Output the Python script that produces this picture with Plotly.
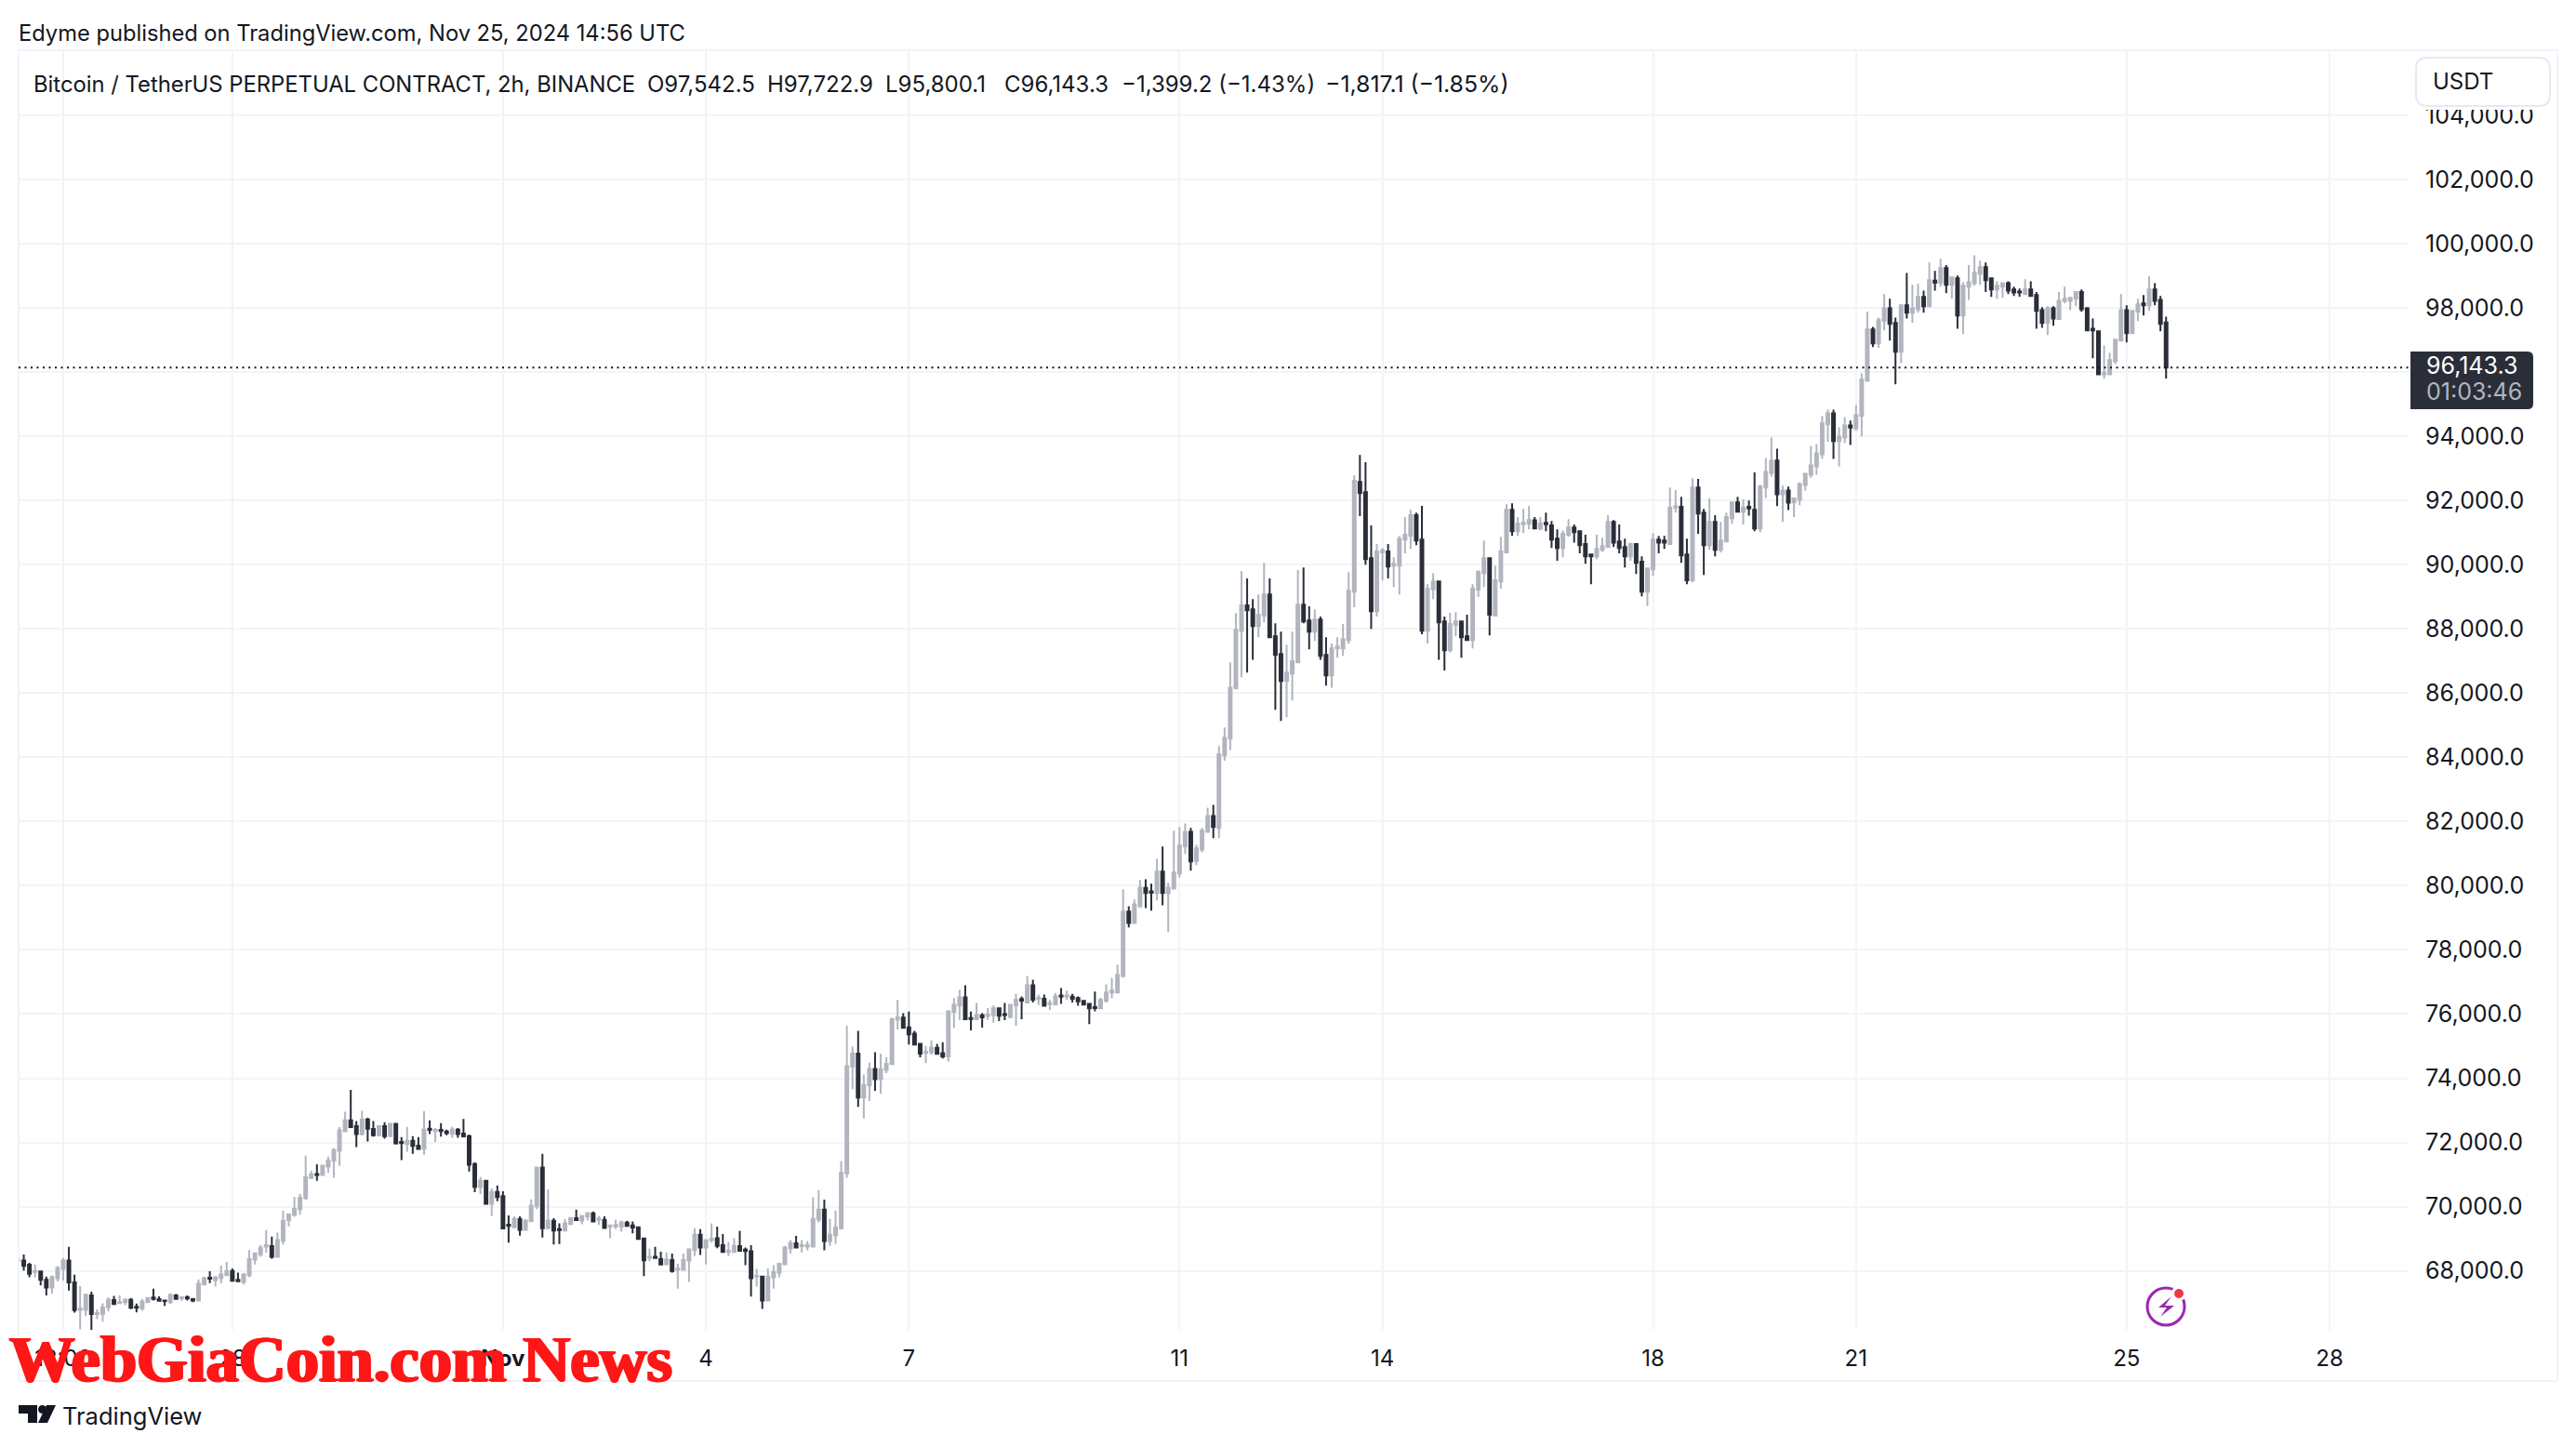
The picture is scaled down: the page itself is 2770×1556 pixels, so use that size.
import pandas as pd
import plotly.graph_objects as go

# 2h candles, prices in thousands of USDT
open_k = [
68.30,68.32,68.19,67.97,67.98,67.72,67.48,67.77,68.06,68.32,
67.64,66.79,66.79,67.24,66.66,66.66,66.87,67.09,67.00,67.03,
67.10,66.88,66.83,67.03,67.17,67.12,67.08,67.03,67.24,67.15,
67.18,67.12,67.08,67.58,67.79,67.71,67.78,67.87,68.00,67.72,
67.66,67.87,68.35,68.52,68.76,68.77,68.44,68.94,69.58,69.74,
69.92,70.27,70.90,71.02,70.99,71.25,71.43,71.74,72.35,72.69,
72.51,72.26,72.72,72.42,72.23,72.51,72.20,72.58,72.02,71.95,
72.05,71.90,71.81,72.43,72.36,72.39,72.34,72.28,72.40,72.28,
72.20,71.33,70.62,70.81,70.09,70.46,70.33,69.44,69.36,69.61,
69.28,69.55,70.01,71.22,69.33,69.56,69.30,69.26,69.46,69.64,
69.57,69.70,69.79,69.60,69.59,69.38,69.39,69.38,69.50,69.42,
69.36,69.01,68.41,68.44,68.37,68.21,68.34,68.04,68.03,68.32,
68.65,69.13,68.73,68.96,69.02,68.80,68.59,68.59,68.77,68.66,
68.61,67.82,67.82,67.08,67.80,67.95,68.21,68.71,68.86,68.77,
68.76,68.76,69.60,69.91,68.93,69.11,69.33,71.04,74.36,74.77,
73.40,73.78,74.29,73.97,74.26,74.44,75.83,75.89,75.59,75.39,
75.07,74.80,74.81,74.95,74.78,74.68,76.07,76.27,76.52,75.88,
75.84,75.96,75.94,75.97,76.18,76.00,75.91,76.27,76.47,76.36,
76.90,76.47,76.48,76.31,76.30,76.58,76.55,76.54,76.50,76.41,
76.32,76.22,76.18,76.42,76.67,76.67,77.19,79.19,78.84,79.36,
79.93,79.82,79.77,80.44,79.77,79.91,80.38,81.23,81.68,80.77,
81.13,81.68,82.17,81.80,84.06,84.58,86.15,87.94,88.73,88.61,
88.09,88.41,89.07,87.77,87.22,86.38,86.61,86.96,88.75,88.26,
87.91,88.29,87.19,86.55,87.39,87.39,87.65,89.16,92.58,92.26,
90.20,88.55,90.38,90.41,89.97,89.97,90.78,90.90,91.54,90.78,
87.94,89.23,89.48,88.23,87.33,88.12,88.23,87.77,87.65,89.22,
89.74,90.20,88.41,89.48,90.38,91.71,91.04,91.26,91.28,91.38,
91.13,91.30,91.22,90.81,90.52,90.93,91.16,91.04,90.64,90.32,
90.26,90.46,90.55,91.33,90.72,90.55,90.26,90.64,90.09,89.16,
89.85,90.78,90.75,90.64,91.78,91.80,90.32,89.51,92.40,91.62,
90.61,91.33,90.46,90.72,91.45,91.94,91.65,91.80,91.71,91.13,
92.40,92.86,93.24,92.19,92.31,91.94,92.02,92.48,92.80,93.06,
93.44,94.37,94.71,93.85,93.96,94.34,94.25,94.63,95.73,97.33,
96.89,97.59,97.99,97.53,96.63,98.08,97.85,97.96,98.34,98.05,
98.85,98.78,99.24,98.72,98.92,97.76,98.66,98.77,99.06,99.27,
98.92,98.57,98.66,98.77,98.57,98.51,98.43,98.57,98.40,97.93,
97.53,97.99,97.65,98.22,98.22,98.28,98.49,97.99,97.35,97.27,
95.93,95.93,96.34,96.98,97.93,97.21,97.88,98.14,98.08,98.57,
98.25,97.5425]

high_k = [
68.40,68.51,68.25,68.20,68.01,67.82,67.87,68.15,68.40,68.75,
67.88,67.53,67.26,67.35,66.80,66.99,67.18,67.22,67.24,67.14,
67.16,66.98,67.13,67.16,67.45,67.21,67.10,67.30,67.28,67.19,
67.24,67.16,67.74,67.82,67.99,67.84,68.17,68.28,68.08,67.95,
67.93,68.65,68.57,68.80,69.27,69.07,69.19,69.88,69.77,70.31,
70.40,71.59,71.12,71.32,71.30,71.56,71.83,72.48,72.96,73.64,
72.67,72.99,72.77,72.67,72.53,72.63,72.61,72.60,72.17,72.49,
72.20,72.17,72.98,72.69,72.45,72.60,72.40,72.49,72.45,72.73,
72.25,71.39,70.93,70.81,70.57,70.66,70.48,69.73,69.70,69.70,
69.61,70.23,71.25,71.65,70.54,69.64,69.48,69.62,69.68,69.91,
69.73,69.82,69.85,69.71,69.70,69.44,69.60,69.56,69.56,69.54,
69.39,69.01,68.70,68.75,68.60,68.58,68.54,68.22,68.54,68.69,
69.33,69.30,68.96,69.48,69.38,69.15,68.90,69.02,69.25,68.73,
68.80,68.06,67.84,68.08,68.18,68.25,68.78,68.96,69.09,68.96,
68.93,70.29,70.52,70.22,69.62,69.88,71.42,75.64,74.99,75.48,
74.12,74.49,74.81,74.76,74.66,75.89,76.44,76.03,76.08,75.48,
75.07,75.01,75.18,75.07,75.12,76.09,76.50,76.75,76.90,76.08,
76.35,76.03,76.19,76.27,76.20,76.35,76.30,76.63,76.55,77.19,
77.07,76.61,76.61,76.44,76.66,76.81,76.73,76.63,76.55,76.44,
76.32,76.70,76.51,76.93,77.13,77.54,79.89,79.36,79.57,80.18,
80.20,80.06,80.84,81.22,80.09,81.71,81.83,81.94,81.80,81.28,
81.80,82.43,82.52,84.35,84.93,86.96,88.49,89.80,89.57,88.93,
89.07,90.06,89.57,88.17,87.91,87.51,87.91,89.83,89.91,88.70,
88.61,88.38,87.74,87.54,87.74,88.15,89.77,92.78,93.42,93.19,
91.22,90.64,90.52,90.64,90.23,90.90,91.48,91.71,91.62,91.83,
89.39,89.74,89.48,88.38,88.50,88.52,88.26,88.44,89.39,89.83,
90.75,90.23,89.97,90.87,91.88,91.91,91.48,91.74,91.83,91.48,
91.48,91.62,91.36,91.10,91.07,91.42,91.25,91.04,90.93,90.32,
90.93,90.84,91.54,91.39,91.25,90.81,90.69,90.67,90.26,89.91,
90.98,90.90,90.90,92.40,92.32,92.11,90.81,92.69,92.67,91.74,
92.06,91.54,91.33,91.62,91.97,92.11,92.03,92.00,92.87,92.49,
93.32,93.96,93.61,92.46,92.43,92.09,92.57,92.86,93.70,93.76,
94.63,94.83,94.83,94.28,94.60,94.49,94.98,95.96,97.88,97.41,
97.70,98.43,98.28,97.70,98.08,99.09,98.72,98.75,98.54,99.41,
99.15,99.53,99.33,98.98,99.01,98.80,99.33,99.64,99.47,99.41,
98.92,98.83,98.80,98.83,98.66,98.60,98.89,98.83,98.49,98.02,
98.05,98.05,98.49,98.66,98.34,98.49,98.57,98.02,97.67,97.27,
96.83,96.60,97.04,98.43,98.08,97.93,98.28,98.40,98.98,98.77,
98.37,97.7229]

low_k = [
68.25,68.01,67.80,67.80,67.55,67.24,67.29,67.67,67.70,67.39,
66.70,66.18,66.59,66.10,66.50,66.42,66.74,66.97,66.97,66.93,
66.81,66.71,66.76,67.00,67.08,67.05,66.91,66.97,67.10,67.07,
67.08,67.03,67.08,67.57,67.62,67.51,67.61,67.87,67.69,67.66,
67.58,67.80,68.20,68.44,68.57,68.38,68.42,68.82,69.39,69.69,
69.75,70.21,70.86,70.81,70.96,71.05,70.90,71.28,72.32,72.45,
71.86,72.22,72.03,72.18,72.20,72.12,72.20,71.94,71.45,71.71,
71.65,71.78,71.62,72.26,72.02,72.18,72.23,72.15,72.15,72.18,
71.10,70.45,70.39,70.06,69.71,70.17,69.32,68.88,69.36,69.10,
69.28,69.55,69.92,69.04,69.33,68.82,68.84,69.26,69.44,69.58,
69.45,69.57,69.51,69.43,69.33,69.02,69.30,69.22,69.39,69.17,
69.00,67.84,68.30,68.39,68.18,68.21,67.95,67.45,68.03,67.66,
68.47,68.50,68.20,68.88,68.71,68.59,68.46,68.59,68.61,68.18,
67.20,67.51,66.82,67.05,67.45,67.80,68.20,68.55,68.71,68.58,
68.64,68.76,69.51,68.64,68.78,68.84,69.29,70.90,73.66,73.11,
72.75,73.29,73.61,73.52,74.16,74.42,75.52,75.55,75.05,75.02,
74.65,74.47,74.74,74.73,74.62,74.52,75.57,75.81,75.84,75.49,
75.84,75.58,75.82,75.73,75.78,75.81,75.87,75.64,75.84,76.36,
76.36,76.28,76.24,76.13,76.30,76.32,76.44,76.36,76.26,76.27,
75.69,76.09,76.18,76.36,76.49,76.67,77.14,78.70,78.84,79.31,
79.30,79.22,79.54,79.39,78.55,79.89,80.26,80.99,80.47,80.64,
81.04,81.68,81.48,81.48,83.89,84.23,86.12,86.49,86.64,87.04,
87.74,88.20,87.71,85.48,85.13,85.25,85.77,86.93,88.17,87.36,
87.62,87.04,86.23,86.17,87.10,87.16,87.54,88.67,91.51,90.00,
88.00,88.38,89.51,89.57,89.30,89.07,90.35,90.49,90.61,87.83,
87.54,88.93,87.04,86.70,87.27,87.77,87.10,87.62,87.39,88.99,
89.30,87.80,88.41,89.25,90.35,90.90,90.90,90.99,91.10,91.13,
91.07,91.04,90.52,90.12,90.23,90.87,90.69,90.35,90.03,89.39,
90.17,90.40,90.55,90.55,90.35,89.91,90.12,89.71,89.01,88.72,
89.65,90.35,90.49,90.64,91.62,90.06,89.39,89.45,90.96,89.68,
90.46,90.26,90.38,90.72,91.27,91.65,91.25,91.53,91.04,91.01,
92.08,92.74,91.82,91.33,91.70,91.48,91.85,92.31,92.71,92.80,
93.29,93.82,93.29,93.06,93.79,93.73,94.17,93.99,95.73,96.78,
96.75,97.30,96.98,95.62,96.28,97.67,97.53,97.85,97.85,98.05,
98.54,98.66,98.46,98.28,97.35,97.18,98.25,98.69,98.72,98.49,
98.34,98.28,98.31,98.43,98.37,98.34,98.43,98.37,97.35,97.38,
97.15,97.44,97.64,98.14,97.93,98.05,97.88,97.27,96.43,95.93,
95.79,95.91,96.25,96.98,96.92,97.21,97.59,97.76,97.91,98.08,
97.27,95.8001]

close_k = [
68.35,68.16,67.91,68.00,67.72,67.48,67.80,68.09,68.32,67.64,
66.78,66.83,67.26,66.66,66.69,66.87,67.10,66.97,67.03,67.11,
66.85,66.85,67.05,67.15,67.13,67.07,67.06,67.25,67.13,67.18,
67.14,67.08,67.60,67.77,67.76,67.80,67.89,68.00,67.69,67.68,
67.89,68.37,68.55,68.72,68.80,68.44,68.96,69.56,69.76,69.93,
70.28,70.92,71.01,70.99,71.28,71.44,71.76,72.38,72.69,72.48,
72.26,72.72,72.43,72.23,72.51,72.20,72.58,71.97,71.98,72.05,
71.89,71.80,72.40,72.39,72.39,72.36,72.29,72.40,72.26,72.19,
71.31,70.62,70.81,70.09,70.46,70.30,69.32,69.40,69.62,69.28,
69.57,70.03,71.22,69.33,69.57,69.26,69.27,69.48,69.65,69.58,
69.71,69.80,69.54,69.63,69.34,69.42,69.43,69.51,69.40,69.35,
69.00,68.33,68.44,68.40,68.20,68.35,68.00,68.07,68.34,68.67,
69.13,68.73,68.96,69.00,68.78,68.59,68.63,68.78,68.63,68.62,
67.77,67.85,67.08,67.82,67.97,68.22,68.73,68.87,68.73,68.80,
68.80,69.62,69.91,68.93,69.13,69.35,71.06,74.38,74.77,73.40,
73.79,74.29,73.97,74.28,74.45,75.83,75.89,75.57,75.37,75.05,
74.77,74.83,74.96,74.76,74.68,76.09,76.29,76.52,75.84,75.85,
75.97,75.90,75.99,76.18,75.95,75.97,76.29,76.44,76.42,76.90,
76.45,76.51,76.26,76.35,76.55,76.54,76.58,76.48,76.40,76.30,
76.18,76.19,76.44,76.67,76.73,77.22,79.19,78.84,79.42,79.94,
79.77,79.78,80.44,79.77,79.94,80.41,81.25,81.68,80.76,81.16,
81.71,82.17,81.83,84.09,84.61,86.17,87.97,88.73,88.58,88.09,
88.44,89.07,87.74,87.19,86.38,86.64,86.99,88.75,88.23,87.91,
88.29,87.16,86.55,87.39,87.45,87.68,89.19,92.61,92.23,90.17,
88.55,90.41,90.44,89.94,90.03,90.81,90.93,91.54,90.75,87.94,
89.25,89.48,88.20,87.33,88.15,88.23,87.74,87.65,89.25,89.77,
90.20,88.44,89.51,90.41,91.71,91.04,91.28,91.30,91.39,91.13,
91.28,91.26,90.78,90.52,90.96,91.16,91.01,90.61,90.26,90.26,
90.49,90.58,91.33,90.69,90.52,90.26,90.64,90.06,89.16,89.88,
90.78,90.69,90.69,91.77,91.82,90.29,89.51,92.40,91.59,90.61,
91.33,90.46,90.75,91.48,91.94,91.65,91.77,91.75,91.13,92.43,
92.89,93.24,92.19,92.31,91.93,92.06,92.51,92.83,93.09,93.47,
94.40,94.71,93.85,93.99,94.34,94.27,94.66,95.76,97.33,96.89,
97.62,97.99,97.50,96.63,98.08,97.85,97.99,98.34,98.05,98.86,
98.78,99.24,98.72,98.95,97.76,98.69,98.80,99.09,99.27,98.86,
98.57,98.69,98.77,98.54,98.48,98.48,98.57,98.37,97.91,97.53,
97.99,97.67,98.22,98.28,98.31,98.49,97.96,97.30,97.30,95.93,
95.98,96.37,97.01,97.93,97.21,97.91,98.11,98.08,98.57,98.22,
97.50,96.1433]

first_bar = "2024-10-24 20:00"
price_ticks = [68000 + 2000 * i for i in range(19)]
time_ticks = ["2024-10-25 12:00", "2024-10-28", "2024-11-01", "2024-11-04", "2024-11-07", "2024-11-11",
              "2024-11-14", "2024-11-18", "2024-11-21", "2024-11-25", "2024-11-28"]
time_labels = ["12:00", "28", "<b>Nov</b>", "4", "7", "11", "14", "18", "21", "25", "28"]
legend_main = "Bitcoin / TetherUS PERPETUAL CONTRACT, 2h, BINANCE"
legend_vals = ["O97,542.5", "H97,722.9", "L95,800.1", "C96,143.3", "−1,399.2 (−1.43%)", "−1,817.1 (−1.85%)"]

assert len(open_k) == len(high_k) == len(low_k) == len(close_k) == 382

times = pd.date_range(first_bar, periods=len(open_k), freq="2h")
to_usdt = lambda xs: [round(v * 1000, 1) for v in xs]
last_close = round(close_k[-1] * 1000, 1)

W, H = 2770, 1556
L, R, T, B = 20, 2590, 53, 1430
INK = "#131722"
FONT = "Inter, Roboto, sans-serif"
def px(x): return (x - L) / (R - L)
def py(y): return (B - y) / (B - T)

fig = go.Figure(go.Candlestick(
    x=times, open=to_usdt(open_k), high=to_usdt(high_k), low=to_usdt(low_k), close=to_usdt(close_k),
    increasing=dict(line=dict(color="#B2B5BE", width=2), fillcolor="#B2B5BE"),
    decreasing=dict(line=dict(color="#2A2E39", width=2), fillcolor="#2A2E39"),
    whiskerwidth=0, hoverinfo="skip",
))

def note(x, y, text, size=24, color=INK, anchor="left", family=FONT, shadow=None):
    f = dict(family=family, size=size, color=color)
    if shadow:
        f["shadow"] = shadow
    fig.add_annotation(x=px(x), y=py(y), xref="paper", yref="paper", text=text, showarrow=False,
                       xanchor=anchor, yanchor="middle", align="left", font=f)

def shape_path(points, fill):
    d = "M " + " L ".join(f"{px(a):.5f},{py(b):.5f}" for a, b in points) + " Z"
    fig.add_shape(type="path", path=d, xref="paper", yref="paper", fillcolor=fill, line_width=0)

def rect(x0, y0, x1, y1, line="#F0F3FA", fill=None, width=2):
    fig.add_shape(type="rect", xref="paper", yref="paper", x0=px(x0), x1=px(x1), y0=py(y0), y1=py(y1),
                  line=dict(color=line, width=width), fillcolor=fill)

def circle(cx, cy, r, line=None, fill=None, width=3):
    fig.add_shape(type="circle", xref="paper", yref="paper", x0=px(cx - r), x1=px(cx + r),
                  y0=py(cy + r), y1=py(cy - r),
                  line=dict(color=line or "rgba(0,0,0,0)", width=width if line else 0), fillcolor=fill)

# frame
rect(20, 54, 2750, 1485)
# last price line
fig.add_shape(type="line", xref="paper", yref="y", x0=0, x1=1, y0=last_close, y1=last_close,
              line=dict(color=INK, width=2, dash="2px,4.5px"))
# price tag
tag = (f"M {px(2592):.5f},{py(378):.5f} L {px(2718):.5f},{py(378):.5f} "
       f"Q {px(2724):.5f},{py(378):.5f} {px(2724):.5f},{py(384):.5f} "
       f"L {px(2724):.5f},{py(434):.5f} Q {px(2724):.5f},{py(440):.5f} {px(2718):.5f},{py(440):.5f} "
       f"L {px(2592):.5f},{py(440):.5f} Z")
fig.add_shape(type="path", path=tag, xref="paper", yref="paper", fillcolor="#2A2E39", line_width=0)
note(2607, 393, "96,143.3", size=25, color="#FFFFFF")
note(2607, 421, "01:03:46", size=25, color="#B2B5BE")
# USDT box
def rounded(x0, y0, x1, y1, r):
    return (f"M {px(x0 + r):.5f},{py(y0):.5f} L {px(x1 - r):.5f},{py(y0):.5f} "
            f"Q {px(x1):.5f},{py(y0):.5f} {px(x1):.5f},{py(y0 + r):.5f} "
            f"L {px(x1):.5f},{py(y1 - r):.5f} Q {px(x1):.5f},{py(y1):.5f} {px(x1 - r):.5f},{py(y1):.5f} "
            f"L {px(x0 + r):.5f},{py(y1):.5f} Q {px(x0):.5f},{py(y1):.5f} {px(x0):.5f},{py(y1 - r):.5f} "
            f"L {px(x0):.5f},{py(y0 + r):.5f} Q {px(x0):.5f},{py(y0):.5f} {px(x0 + r):.5f},{py(y0):.5f} Z")
rect(2600, 112, 2740, 118, line="rgba(0,0,0,0)", fill="#FFFFFF", width=0)
fig.add_shape(type="path", path=rounded(2598, 62, 2742, 114, 12), xref="paper", yref="paper",
              fillcolor="#FFFFFF", line=dict(color="#E8E9F0", width=2))
note(2614, 87, "USDT")
# header texts
note(18, 36, "Edyme published on TradingView.com, Nov 25, 2024 14:56 UTC", size=23.7)
note(34, 90, legend_main, size=23.8)
for x, text, size in zip([694, 823, 950, 1078, 1204, 1423], legend_vals, [24, 24, 24, 24, 24, 24.8]):
    note(x, 90, text, size=size)
# flash icon
circle(2329, 1405, 20, line="#9C27B0")
circle(2343, 1391, 8, fill="#FFFFFF")
circle(2343, 1391, 5, fill="#F23645")
shape_path([(2335, 1394), (2321, 1406), (2330, 1406), (2323, 1416), (2338, 1404), (2328, 1404)], "#9C27B0")
# TradingView logo
shape_path([(20, 1511), (40, 1511), (40, 1530), (30, 1530), (30, 1520), (20, 1520)], "#131722")
circle(45.5, 1515.5, 4.5, fill="#131722")
shape_path([(50, 1511), (60, 1511), (51, 1530), (41, 1530)], "#131722")
note(65, 1522, "TradingView", size=25.5)
# watermark
note(8, 1461, "<b>WebGiaCoin.com News</b>", size=70.5, color="#FF1616",
     family="'Liberation Serif', serif", shadow="1.5px 0 #FF1616, -1.5px 0 #FF1616, 0 1px #FF1616")

fig.update_layout(
    width=W, height=H, autosize=False,
    margin=dict(l=L, r=W - R, t=T, b=H - B, pad=0),
    paper_bgcolor="#FFFFFF", plot_bgcolor="#FFFFFF",
    showlegend=False, boxgap=0.3, hovermode=False,
    font=dict(family=FONT, size=24, color=INK),
    xaxis=dict(type="date", range=["2024-10-24 20:10", "2024-11-29 04:02"], rangeslider=dict(visible=False),
               tickmode="array", tickvals=time_ticks, ticktext=time_labels, tickangle=0,
               showgrid=True, gridcolor="#F3F4F6", gridwidth=2, zeroline=False, showline=False,
               ticks="outside", ticklen=9, tickcolor="rgba(0,0,0,0)", tickfont=dict(size=24, color=INK)),
    yaxis=dict(side="right", range=[66165, 106054], tickmode="array", tickvals=price_ticks,
               tickformat=",.1f", showgrid=True, gridcolor="#F3F4F6", gridwidth=2, zeroline=False,
               showline=False, ticks="outside", ticklen=12, tickcolor="rgba(0,0,0,0)",
               tickfont=dict(size=25, color=INK)),
)
fig.write_html("out.html", config={"displayModeBar": False},
               post_script="document.body.style.margin='0';document.body.style.overflow='hidden';")
